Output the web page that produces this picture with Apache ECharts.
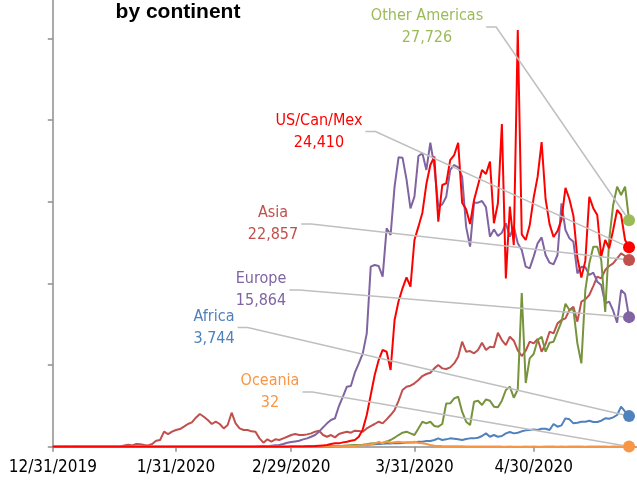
<!DOCTYPE html>
<html>
<head>
<meta charset="utf-8">
<script src="https://cdn.jsdelivr.net/npm/echarts@6/dist/echarts.min.js"></script>
<style>
  html, body { margin: 0; padding: 0; background: #fff; }
  #chart { width: 637px; height: 480px; }
</style>
</head>
<body>
<div id="chart"></div>
<script>
// daily new cases by continent, 12/31/2019 .. 5/24/2020 (146 days)
const dayCount = 148  // axis runs two days past the last point
const tickDates = ['12/31/2019', '1/31/2020', '2/29/2020', '3/31/2020', '4/30/2020']
const yTicks = [0, 10000, 20000, 30000, 40000, 50000]

const asia = [
  27, 0, 0, 17, 0, 0, 15, 0, 0, 0, 0, 0, 0, 0, 0, 0, 4, 17, 136,
  245, 160, 330, 290, 200, 160, 330, 735, 816, 1840, 1550, 1840, 2040, 2160, 2450, 2780,
  2980, 3550, 4000, 3670, 3270, 2780, 3060, 2780, 2240, 2650, 4160, 2860, 2240, 2040, 2040, 1880,
  1840, 1020, 490, 900, 610, 900, 820, 1020, 1220, 1430, 1550, 1430, 1430, 1510, 1630, 1840,
  1960, 1430, 1220, 1430, 1140, 1550, 1710, 1840, 1710, 1960, 1920, 1840, 2240, 2530, 2780,
  3060, 2860, 3350, 3880, 4490,
  5600, 6940, 7350, 7470, 7760, 8160, 8650, 8900, 9060, 9590, 10000, 9590, 9510, 9710, 10200,
  11020, 12860, 11630, 11710, 11430, 11840, 12730, 11840, 12240, 12160, 13960, 13060, 12450,
  13470, 12980, 11800,
  11100, 11750, 12860, 12650, 13180, 11630, 12570, 14080, 13880, 15100, 15510, 15710, 16730,
  17140, 15310, 17760, 18040, 18570, 19670, 20820, 20610, 21630, 22120, 22450, 23060, 23670,
  23350, 22857
]
const europe = [
  0, 0, 0, 0, 0, 0, 0, 0, 0, 0, 0, 0, 0, 0, 0, 0, 0, 0, 0, 0, 0, 0, 0, 0,
  3, 0, 0, 1, 4, 0, 5, 3, 2, 1, 5, 0, 2, 3, 3, 1, 0, 2, 1, 0, 4, 0, 0, 3, 2, 1, 0, 17, 42,
  80, 70, 130, 170,
  200, 330, 490, 570, 650, 730, 900, 1020, 1220, 1430, 1840, 2370, 2860, 3270, 3470, 4980,
  6120, 7350, 7430, 9060, 10200, 11430, 13880, 22040, 22240, 22120, 20820, 26730, 25920, 31840,
  35430, 35390, 32730, 29180, 30610, 35590, 35920, 33880, 37220, 34290, 29390, 29670, 30610,
  33880, 34490, 34200, 33060, 26940, 24490, 29880, 29880, 30080, 29310, 25710, 26610, 25800,
  26200, 27350, 25710, 26940, 24900,
  24080, 22040, 21840, 23270, 24900, 25630, 23470, 22530, 22330, 23470, 29800, 26530, 25510,
  25100, 21220, 22040, 21960, 21020, 21310, 20200, 19800, 17550, 17760, 16650, 15180, 19180,
  18700, 15864
]
const usCanMex = [
  0, 0, 0, 0, 0, 0, 0, 0, 0, 0, 0, 0, 0, 0, 0, 0, 0, 0, 0, 0, 0,
  1, 0, 0, 1, 1, 0, 0, 0, 0, 1, 0, 1, 0, 0, 1, 1, 0, 0, 0, 0, 0, 0, 1, 0, 0,
  0, 0, 0, 1, 0, 0, 0, 0, 1, 0, 3, 4, 2, 7, 10, 12, 21, 25, 44, 57,
  80, 120, 160, 200, 330, 410, 410, 530, 610, 730, 820, 1220, 2120, 3880, 6330, 8780, 10610,
  11840, 11630, 9390, 15510,
  17800, 19390, 20730, 19590, 25310, 26940, 28650, 32160, 34490, 35510, 27550, 32040, 32240,
  35100, 35710, 37220, 29880, 29060, 27270, 30200, 32040, 33880, 33390, 34900, 27350, 29800,
  39510, 20610, 29390, 24690, 51020,
  26000, 25310, 27100, 30500, 33060, 37300, 30300, 27250, 25670, 26400, 27800, 31700, 30300,
  28260, 23100, 20700, 22750, 30600, 29200, 28370, 23270, 25300, 24290, 26530, 28980, 28370,
  25310, 24410
]
const otherAmericas = [
  0, 0, 0, 0, 0, 0, 0, 0, 0, 0, 0, 0, 0, 0, 0, 0, 0, 0, 0, 0, 0, 0, 0, 0, 0, 0, 0, 0, 0, 0,
  0, 0, 0, 0, 0, 0, 0, 0, 0, 0, 0, 0, 0, 0, 0, 0, 0, 0, 0, 0, 0, 0, 0, 0, 0, 0, 0,
  1, 0, 1, 0, 1, 2, 5, 10,
  10, 20, 30, 40, 50, 60, 80, 100, 120, 150, 180, 200, 220, 250, 300, 380, 420,
  410, 490, 610, 820, 1100, 1430, 1710, 1840, 1630, 1430, 2240, 3060, 2860, 3060, 2530, 2450,
  2780, 5300, 5310, 5920, 6120, 4290, 3060, 2650, 5510, 5630, 5100, 5800, 5630, 4900, 4820,
  5630, 6940, 7350, 6000,
  7000, 18800, 7800, 10820, 11350, 13060, 13470, 11630, 12730, 12860, 14080, 15300, 17500,
  16730, 16820, 12650, 10200, 19180, 22450, 24490, 24490, 22860, 16500, 25310, 29590, 31840,
  30820, 31840, 27726
]
const africa = [
  0, 0, 0, 0, 0, 0, 0, 0, 0, 0, 0, 0, 0, 0, 0, 0, 0, 0, 0, 0, 0, 0, 0, 0, 0, 0, 0, 0, 0, 0,
  0, 0, 0, 0, 0, 0, 0, 0, 0, 0, 0, 0, 0, 0, 0, 0, 0, 0, 0, 0, 0, 0, 0, 0, 0, 0, 0, 0, 0, 0,
  0, 0, 0,
  2, 5, 5, 10, 15, 20, 25, 30, 40, 55, 80, 100, 120, 150, 170, 200, 250, 280, 300,
  330, 350, 400, 400, 450, 410, 450, 500, 500, 520, 610, 610, 690, 700, 820, 1020, 820, 900,
  1020, 980, 900, 820, 940, 1020, 1020, 1100, 1310, 1630, 1220, 1430, 1220, 1310, 1630, 1800,
  1630, 1710, 1880, 2000, 2040, 2120, 2040, 2200, 2200, 2040, 2780, 2450, 2610, 3470, 3350,
  2860, 2940, 3060, 3060, 3180, 3020, 3020, 3180, 3470, 3430, 3590, 3880, 4900, 4290, 3744
]
const oceania = [
  0, 0, 0, 0, 0, 0, 0, 0, 0, 0, 0, 0, 0, 0, 0, 0, 0, 0, 0, 0, 0, 0, 0, 0, 0,
  4, 0, 1, 0, 2, 1, 0, 1, 0, 0, 1, 0, 0, 0, 0, 0, 0, 0, 0, 0, 0, 0, 0, 0, 0, 0, 0, 0, 0, 0,
  0, 2, 1, 0, 2, 4, 3, 5, 7, 10, 15, 12, 20, 15, 20,
  20, 30, 40, 50, 60, 80, 100, 150, 180, 250, 300, 380,
  600, 400, 690, 490, 560, 610, 530, 490, 530, 610, 450, 410, 330, 200, 120, 100,
  80, 70, 60, 50, 45, 40, 30, 25, 20, 22, 18, 15, 12, 10, 15, 10, 8, 10, 5, 8,
  6, 12, 5, 10, 8, 5, 20, 10, 12, 8, 10, 5, 15, 20, 10, 12, 8, 15, 10, 20,
  15, 12, 8, 20, 15, 25, 18, 32
]

const dates = []
for (let i = 0; i < dayCount; i++) {
  const d = new Date(Date.UTC(2019, 11, 31 + i))
  dates.push((d.getUTCMonth() + 1) + '/' + d.getUTCDate() + '/' + d.getUTCFullYear())
}

const labelFont = '"DejaVu Sans Condensed", "DejaVu Sans", sans-serif'

// last point gets a dot and a label pulled out to the left with a leader line
const makeSeries = (name, values, lineColor, dotColor, labelAt) => ({
  name: name,
  type: 'line',
  symbol: 'none',
  showAllSymbol: true,
  data: values.map((v, i) => i < values.length - 1 ? v : {
    value: v,
    symbol: 'circle',
    symbolSize: 12,
    label: { show: true },
    labelLine: { show: true }
  }),
  lineStyle: { color: lineColor, width: 2 },
  itemStyle: { color: dotColor },
  label: {
    show: false,
    formatter: p => p.seriesName + '\n' + p.value.toLocaleString('en-US'),
    color: dotColor,
    fontFamily: labelFont,
    fontSize: 16,
    lineHeight: 22,
    padding: [0, 3]
  },
  labelLine: { show: false, length2: 10, lineStyle: { color: '#BFBFBF', width: 1.5 } },
  labelLayout: { x: labelAt[0], y: labelAt[1], align: 'center', verticalAlign: 'middle' },
  emphasis: { disabled: true }
})

const chart = echarts.init(document.getElementById('chart'))
chart.setOption({
  animation: false,
  graphic: [{
    type: 'text',
    x: 178,
    y: 12,
    style: {
      text: 'by continent',
      align: 'center',
      verticalAlign: 'middle',
      font: 'bold 21px "Liberation Sans", Arial, sans-serif',
      fill: '#000'
    }
  }],
  grid: { left: 52.8, right: 0, top: 0, bottom: 33.3 },
  xAxis: {
    type: 'category',
    data: dates,
    boundaryGap: false,
    axisLine: { lineStyle: { color: '#8E8E8E', width: 1.5 } },
    axisTick: {
      length: 5,
      interval: (idx, val) => tickDates.includes(val),
      lineStyle: { color: '#8E8E8E', width: 1.5 }
    },
    axisLabel: {
      interval: (idx, val) => tickDates.includes(val),
      color: '#000',
      fontFamily: labelFont,
      fontSize: 17,
      margin: 12
    },
    splitLine: { show: false }
  },
  yAxis: {
    type: 'value',
    min: 0,
    max: 54690,
    axisLine: { show: true, lineStyle: { color: '#8E8E8E', width: 1.5 } },
    axisTick: { show: true, length: 5, customValues: yTicks, lineStyle: { color: '#8E8E8E', width: 1.5 } },
    axisLabel: { show: false },
    splitLine: { show: false }
  },
  series: [
    makeSeries('Asia', asia, '#C0504D', '#C0504D', [273, 224]),
    makeSeries('Europe', europe, '#8064A2', '#8064A2', [261, 290]),
    makeSeries('Africa', africa, '#4F81BD', '#4F81BD', [214, 327.5]),
    makeSeries('Other Americas', otherAmericas, '#77933C', '#9BBB59', [427, 27]),
    makeSeries('Oceania', oceania, '#F79646', '#F79646', [270, 392]),
    makeSeries('US/Can/Mex', usCanMex, '#FF0000', '#FF0000', [319, 131.5])
  ]
})
</script>
</body>
</html>
